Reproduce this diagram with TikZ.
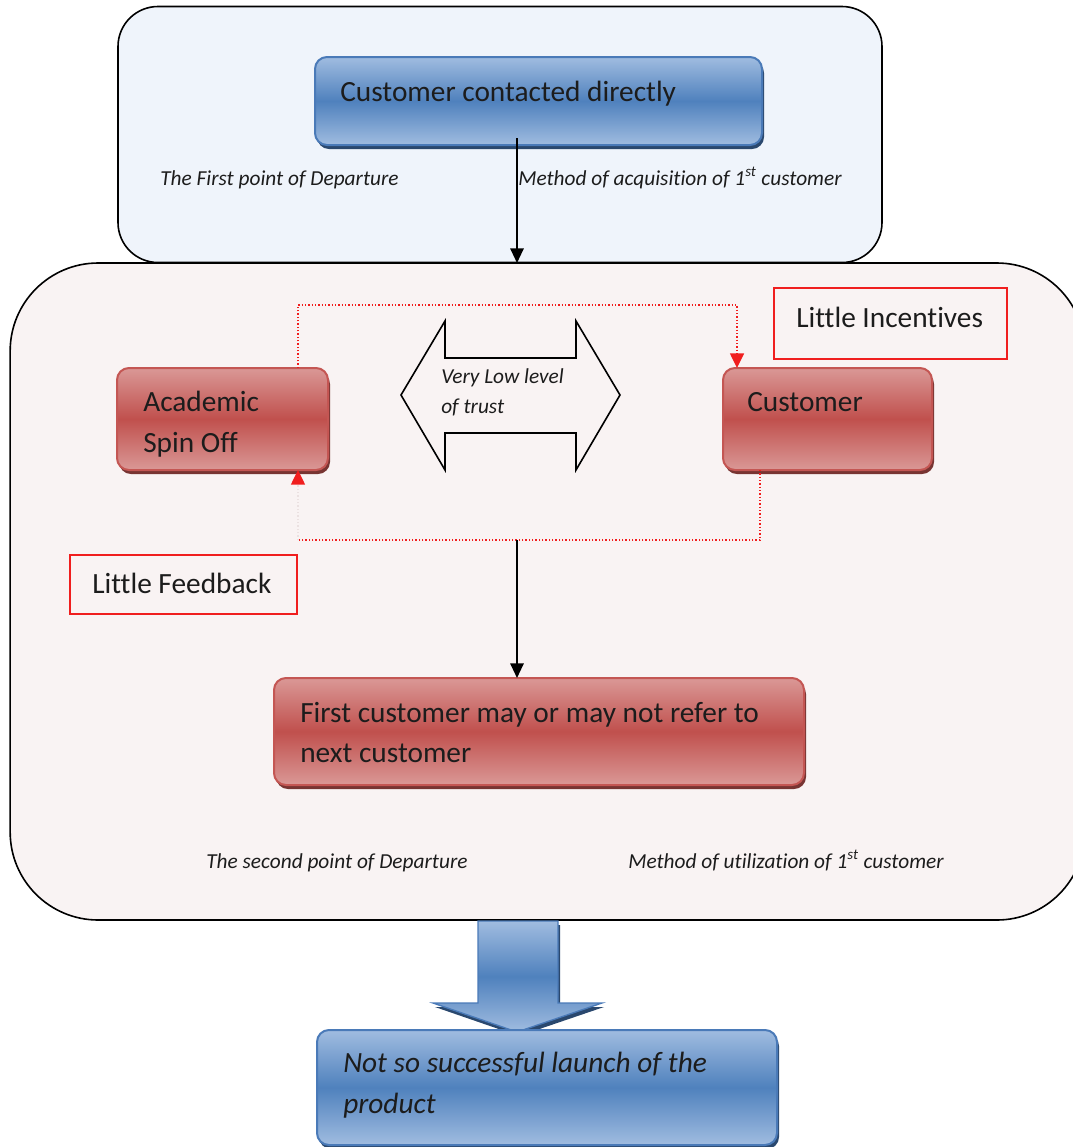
\documentclass[tikz,border=0pt]{standalone}
\usepackage{fontspec}
\setmainfont[Ligatures=NoCommon]{Carlito}
\usetikzlibrary{arrows.meta,shadows,calc}
\definecolor{bltop}{RGB}{160,188,224}
\definecolor{blmid}{RGB}{79,129,189}
\definecolor{blborder}{RGB}{74,122,184}
\definecolor{blshadow}{RGB}{42,72,110}
\definecolor{rdtop}{RGB}{218,152,150}
\definecolor{rdmid}{RGB}{192,80,77}
\definecolor{rdborder}{RGB}{196,86,83}
\definecolor{rdshadow}{RGB}{120,52,50}
\definecolor{topfill}{RGB}{239,244,251}
\definecolor{bigfill}{RGB}{249,243,243}
\definecolor{txt}{RGB}{28,28,28}
\definecolor{reddot}{RGB}{240,30,30}
\definecolor{faintdot}{RGB}{235,225,225}
\begin{document}
\begin{tikzpicture}[x=0.75pt,y=-0.75pt,
  container/.style={draw=black,line width=1.2pt,inner sep=0pt,outer sep=0pt},
  bluebox/.style={rounded corners=9pt,draw=blborder,line width=1.5pt,inner sep=0pt,outer sep=0pt,
    top color=bltop,bottom color=bltop,middle color=blmid,
    general shadow={fill=blshadow,shadow xshift=1.5pt,shadow yshift=-3pt}},
  redbox/.style={rounded corners=9pt,draw=rdborder,line width=1.5pt,inner sep=0pt,outer sep=0pt,
    top color=rdtop,bottom color=rdtop,middle color=rdmid,
    general shadow={fill=rdshadow,shadow xshift=1.5pt,shadow yshift=-3pt}},
  notebox/.style={draw=reddot,line width=1.5pt,inner sep=0pt,outer sep=0pt},
  bigtxt/.style={anchor=base west,inner sep=0pt,text=txt,font=\fontsize{22}{26}\selectfont},
  bigit/.style={bigtxt,font=\fontsize{22}{26}\selectfont\itshape},
  smallit/.style={anchor=base west,inner sep=0pt,text=txt,font=\fontsize{16}{19}\selectfont\itshape},
  blackarrow/.style={draw=black,line width=1.5pt,-{Triangle[width=10pt,length=11pt]}},
  dotline/.style={draw=reddot,line width=1.1pt,dash pattern=on 1.1pt off 1.4pt},
  redtip/.style={-{Triangle[width=10.5pt,length=11pt,color=reddot,fill=reddot]}}
]
\useasboundingbox (0,0) rectangle (1073,1147);

% containers
\node[container,rounded corners=30pt,fill=topfill,minimum width=573pt,minimum height=192pt] (topbox) at (500,134.5) {};
\node[container,rounded corners=66pt,fill=bigfill,minimum width=806pt,minimum height=492.75pt] (bigbox) at (547.5,591.5) {};

% top blue box
\node[bluebox,minimum width=335.25pt,minimum height=66pt] (contact) at (538.5,101) {};
\node[bigtxt] (contacttxt) at (340,101) {Customer contacted directly};
\node[smallit] (first) at (160,185) {The First point of Departure};
\node[smallit] (acq) at (518,185) {Method of acquisition of 1\textsuperscript{st} customer};

% arrow top to big box
\coordinate (ax) at (517,138);
\draw[blackarrow] (ax) -- (ax |- bigbox.north);

% red boxes
\node[redbox,minimum width=158.25pt,minimum height=76.5pt] (acad) at (222.5,419) {};
\node[bigtxt] (acad1) at (143,411) {Academic};
\node[bigtxt] (acad2) at (143,452) {Spin Off};
\node[redbox,minimum width=156.75pt,minimum height=76.5pt] (cust) at (827.5,419) {};
\node[bigtxt] (cust1) at (747,411) {Customer};

% note boxes
\node[notebox,minimum width=174.75pt,minimum height=53.25pt] (incent) at (890.5,323.5) {};
\node[bigtxt] (incenttxt) at (796,327) {Little Incentives};
\node[notebox,minimum width=170.25pt,minimum height=44.25pt] (feedb) at (183.5,584.5) {};
\node[bigtxt] (feedbtxt) at (92,593) {Little Feedback};

% double arrow
\draw[line width=1.2pt,line join=miter] (401,395) -- (445,321) -- (445,358) -- (576,358) -- (576,321)
  -- (620,395) -- (576,470) -- (576,433) -- (445,433) -- (445,470) -- cycle;
\node[smallit] (trust1) at (441,383) {Very Low level};
\node[smallit] (trust2) at (441,413) {of trust};

% dotted loops
\coordinate (lx) at (298,305);
\coordinate (rx) at (737,305);
\draw[dotline,redtip] (lx |- acad.north) -- (lx) -- (rx) -- (rx |- cust.north);
\coordinate (bx) at (760,540);
\draw[dotline] (bx |- cust.south) -- (bx) -- (bx -| lx);
\draw[draw=faintdot,line width=1.1pt,dash pattern=on 1.1pt off 1.4pt,redtip] (bx -| lx) -- (lx |- acad.south);

% refer box
\node[redbox,minimum width=397.5pt,minimum height=80.25pt] (refer) at (539,731.5) {};
\node[bigtxt] (refer1) at (300,722) {First customer may or may not refer to};
\node[bigtxt] (refer2) at (300,762) {next customer};
\draw[blackarrow] (ax |- bx) -- (ax |- refer.north);

\node[smallit] (second) at (206,868) {The second point of Departure};
\node[smallit] (util) at (628,868) {Method of utilization of 1\textsuperscript{st} customer};

% big block arrow
\path[draw=blborder,line width=1pt,top color=bltop,bottom color=bltop,middle color=blmid,
  general shadow={fill=blshadow,shadow xshift=1.5pt,shadow yshift=-3pt}]
  (478,921) -- (558,921) -- (558,1003) -- (602,1003) -- (517,1032) -- (433,1003) -- (478,1003) -- cycle;

% bottom box
\node[bluebox,minimum width=345pt,minimum height=86.25pt] (launch) at (547,1087.5) {};
\node[bigit] (launch1) at (343,1072) {Not so successful launch of the};
\node[bigit] (launch2) at (343,1113) {product};
\end{tikzpicture}
\end{document}
